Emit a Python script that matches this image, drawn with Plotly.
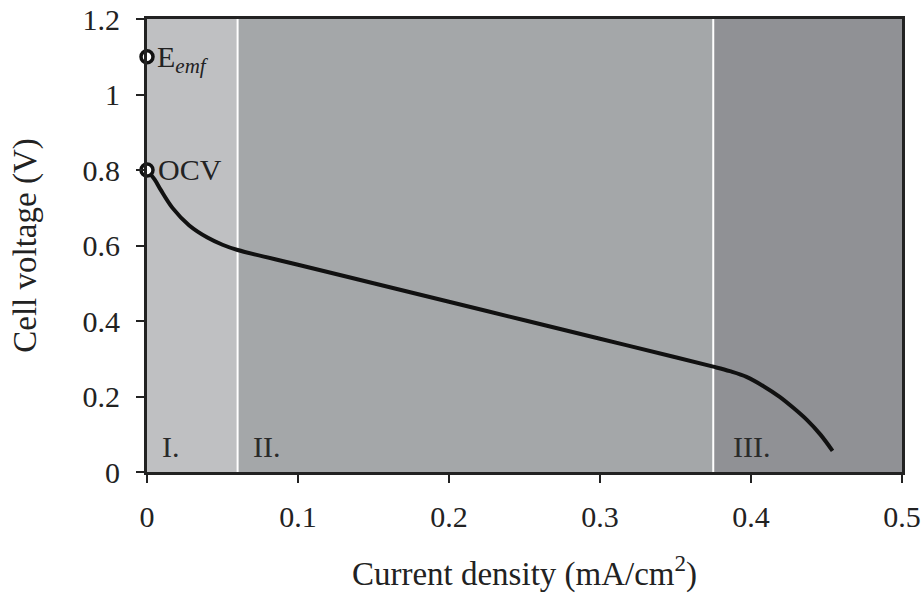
import plotly.graph_objects as go

# Polarization curve
current_density = [0, 0.005, 0.009, 0.017, 0.028, 0.04, 0.05, 0.06, 0.1, 0.15, 0.2, 0.25,
                   0.3, 0.35, 0.375, 0.386, 0.397, 0.408, 0.419, 0.428, 0.437, 0.446, 0.454]
cell_voltage = [0.80, 0.775, 0.748, 0.699, 0.653, 0.621, 0.602, 0.588, 0.549, 0.50, 0.451, 0.402,
                0.353, 0.304, 0.279, 0.267, 0.252, 0.228, 0.199, 0.170, 0.138, 0.099, 0.056]

# Reference points on the voltage axis
ref_x = [0, 0]
ref_y = [1.1, 0.8]
ref_labels = ["E<sub><i>emf</i></sub>", "OCV"]

# Regions
region_edges = [0, 0.06, 0.375, 0.5]
region_colors = ["#bfc0c2", "#a4a7a9", "#909195"]
region_labels = ["I.", "II.", "III."]
region_label_x = [0.016, 0.079, 0.4]
region_label_y = 0.068

FONT = "Liberation Serif"
TXT = "#222222"

fig = go.Figure()

shapes = []
for i, c in enumerate(region_colors):
    shapes.append(dict(type="rect", xref="x", yref="y", x0=region_edges[i], x1=region_edges[i + 1],
                       y0=0, y1=1.2, fillcolor=c, line=dict(width=0), layer="below"))
for e in region_edges[1:-1]:
    shapes.append(dict(type="line", xref="x", yref="y", x0=e, x1=e, y0=0, y1=1.2,
                       line=dict(color="white", width=2), layer="below"))

fig.add_trace(go.Scatter(x=current_density, y=cell_voltage, mode="lines",
                         line=dict(color="#111111", width=4, shape="spline", smoothing=1.0),
                         showlegend=False, hoverinfo="skip"))
fig.add_trace(go.Scatter(x=ref_x, y=ref_y, mode="markers", cliponaxis=False,
                         marker=dict(symbol="circle", size=12, color="white",
                                     line=dict(color="#111111", width=3.5)),
                         showlegend=False, hoverinfo="skip"))

annotations = []
annotations.append(dict(x=0, y=ref_y[0], xref="x", yref="y", text=ref_labels[0], showarrow=False,
                        xanchor="left", yanchor="top", xshift=8, yshift=19,
                        font=dict(family=FONT, size=30, color=TXT)))
annotations.append(dict(x=0, y=ref_y[1], xref="x", yref="y", text=ref_labels[1], showarrow=False,
                        xanchor="left", yanchor="middle", xshift=9, yshift=1,
                        font=dict(family=FONT, size=30, color=TXT)))
for x, t in zip(region_label_x, region_labels):
    annotations.append(dict(x=x, y=region_label_y, xref="x", yref="y", text=t, showarrow=False,
                            xanchor="center", yanchor="middle",
                            font=dict(family=FONT, size=30, color="#2a2a2a")))

fig.update_layout(
    width=924, height=594,
    margin=dict(l=147, r=22, t=19, b=122),
    paper_bgcolor="white", plot_bgcolor="white",
    shapes=shapes, annotations=annotations,
    font=dict(family=FONT, size=30, color=TXT),
)
fig.update_xaxes(range=[0, 0.5], tickvals=[0, 0.1, 0.2, 0.3, 0.4, 0.5],
                 ticktext=["0", "0.1", "0.2", "0.3", "0.4", "0.5"], automargin=False,
                 showgrid=False, zeroline=False, showline=True, linecolor=TXT, linewidth=3,
                 mirror=True, ticks="outside", ticklen=8, tickwidth=2, tickcolor=TXT,
                 ticklabelstandoff=8,
                 title=dict(text="Current density (mA/cm<sup>2</sup>)", standoff=30,
                            font=dict(family=FONT, size=33, color=TXT)),
                 tickfont=dict(family=FONT, size=30, color=TXT))
fig.update_yaxes(range=[0, 1.2], tickvals=[0, 0.2, 0.4, 0.6, 0.8, 1.0, 1.2],
                 ticktext=["0", "0.2", "0.4", "0.6", "0.8", "1", "1.2"], automargin=False,
                 showgrid=False, zeroline=False, showline=True, linecolor=TXT, linewidth=3,
                 mirror=True, ticks="outside", ticklen=8, tickwidth=2, tickcolor=TXT,
                 ticklabelstandoff=10,
                 title=dict(text="Cell voltage (V)", standoff=36,
                            font=dict(family=FONT, size=33, color=TXT)),
                 tickfont=dict(family=FONT, size=30, color=TXT))

fig.write_html("out.html")
